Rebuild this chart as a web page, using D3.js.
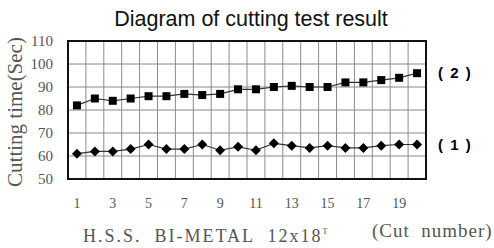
<!DOCTYPE html>
<html>
<head>
<meta charset="utf-8">
<script src="https://cdn.jsdelivr.net/npm/d3@7"></script>
<style>
  body { margin: 0; background: #fff; }
  svg { display: block; }
  .tick text { font-family: "Liberation Serif", "Times New Roman", serif; fill: #555; }
</style>
</head>
<body>
<div id="chart"></div>
<script>
// cut numbers 1..20
var cuts = d3.range(1, 21);
var xTickLabels = [1, 3, 5, 7, 9, 11, 13, 15, 17, 19];
var yTickLabels = [50, 60, 70, 80, 90, 100, 110];

// (1) diamonds, (2) squares -- cutting time in seconds
var series1 = [61, 62, 62, 63, 65, 63, 63, 65, 62.5, 64, 62.5, 65.5, 64.5, 63.5, 64.5, 63.5, 63.5, 64.5, 65, 65];
var series2 = [82, 85, 84, 85, 86, 86, 87, 86.5, 87, 89, 89, 90, 90.5, 90, 90, 92, 92, 93, 94, 96];

var W = 494, H = 248;
var margin = {top: 41, right: 68, bottom: 69, left: 68};
var width = W - margin.left - margin.right;
var height = H - margin.top - margin.bottom;

var svg = d3.select("#chart").append("svg")
        .attr("width", W)
        .attr("height", H);

var g = svg.append("g")
        .attr("transform", "translate(" + margin.left + "," + margin.top + ")");

var x = d3.scaleBand()
        .domain(cuts)
        .range([0, width])
        .padding(0);

var y = d3.scaleLinear()
        .domain([50, 110])
        .range([height, 0]);

function cx(d, i) { return x(cuts[i]) + x.bandwidth() / 2; }

// vertical grid on the band edges
g.selectAll(".vgrid")
        .data(cuts.slice(1))
        .enter().append("line")
        .attr("class", "vgrid")
        .attr("x1", function (d) { return x(d); })
        .attr("x2", function (d) { return x(d); })
        .attr("y1", 0)
        .attr("y2", height)
        .attr("stroke", "#8c8c8c")
        .attr("stroke-width", 1);

// horizontal grid, slightly reddish
g.selectAll(".hgrid")
        .data(yTickLabels.slice(1, -1))
        .enter().append("line")
        .attr("class", "hgrid")
        .attr("x1", 0)
        .attr("x2", width)
        .attr("y1", function (d) { return y(d); })
        .attr("y2", function (d) { return y(d); })
        .attr("stroke", "#9a7f88")
        .attr("stroke-width", 1);

// frame
g.append("rect")
        .attr("width", width)
        .attr("height", height)
        .attr("fill", "none")
        .attr("stroke", "#111")
        .attr("stroke-width", 2);

// axes (labels only)
var xAxis = g.append("g")
        .attr("transform", "translate(0," + (height + 16) + ")")
        .call(d3.axisBottom(x).tickValues(xTickLabels).tickSize(0));
xAxis.select(".domain").remove();
xAxis.selectAll("text").style("font-size", "14px");

var yAxis = g.append("g")
        .attr("transform", "translate(-12,0)")
        .call(d3.axisLeft(y).tickValues(yTickLabels).tickSize(0));
yAxis.select(".domain").remove();
yAxis.selectAll("text").style("font-size", "15px");

var line = d3.line()
        .x(cx)
        .y(function (d) { return y(d); });

[series1, series2].forEach(function (s) {
    g.append("path")
            .datum(s)
            .attr("fill", "none")
            .attr("stroke", "#333")
            .attr("stroke-width", 1.2)
            .attr("d", line);
});

// squares for (2)
g.selectAll(".sq")
        .data(series2)
        .enter().append("rect")
        .attr("class", "sq")
        .attr("x", function (d, i) { return cx(d, i) - 4; })
        .attr("y", function (d) { return y(d) - 4; })
        .attr("width", 8)
        .attr("height", 8)
        .attr("fill", "#000");

// diamonds for (1)
g.selectAll(".dm")
        .data(series1)
        .enter().append("path")
        .attr("class", "dm")
        .attr("transform", function (d, i) { return "translate(" + cx(d, i) + "," + y(d) + ")"; })
        .attr("d", "M0,-5L5,0L0,5L-5,0Z")
        .attr("fill", "#000");

// series labels
[["( 2 )", series2], ["( 1 )", series1]].forEach(function (lb) {
    g.append("text")
            .attr("x", width + 12)
            .attr("y", y(lb[1][lb[1].length - 1]) + 5)
            .style("font-family", "Liberation Sans, Arial, sans-serif")
            .style("font-weight", "bold")
            .style("font-size", "15px")
            .style("letter-spacing", "1.5px")
            .style("white-space", "pre")
            .text(lb[0]);
});

// title
svg.append("text")
        .attr("x", 251)
        .attr("y", 26)
        .style("text-anchor", "middle")
        .style("font-family", "Liberation Sans, Arial, sans-serif")
        .style("font-size", "21.5px")
        .attr("fill", "#111")
        .text("Diagram of cutting test result");

// y title
svg.append("text")
        .attr("transform", "rotate(-90)")
        .attr("x", -112)
        .attr("y", 22)
        .style("text-anchor", "middle")
        .style("font-family", "Liberation Serif, Times New Roman, serif")
        .style("font-size", "21px")
        .attr("fill", "#555")
        .text("Cutting time(Sec)");

// bottom captions
var cap = svg.append("text")
        .attr("x", 83)
        .attr("y", 242)
        .style("font-family", "Liberation Serif, Times New Roman, serif")
        .style("font-size", "18px")
        .style("letter-spacing", "2px")
        .style("white-space", "pre")
        .attr("fill", "#555")
        .text("H.S.S.  BI-METAL  12x18");
cap.append("tspan")
        .attr("dy", -8)
        .style("font-size", "8px")
        .text("T");

svg.append("text")
        .attr("x", 372)
        .attr("y", 237)
        .style("font-family", "Liberation Serif, Times New Roman, serif")
        .style("font-size", "19px")
        .style("letter-spacing", "1px")
        .style("white-space", "pre")
        .attr("fill", "#555")
        .text("(Cut  number)");
</script>
</body>
</html>
